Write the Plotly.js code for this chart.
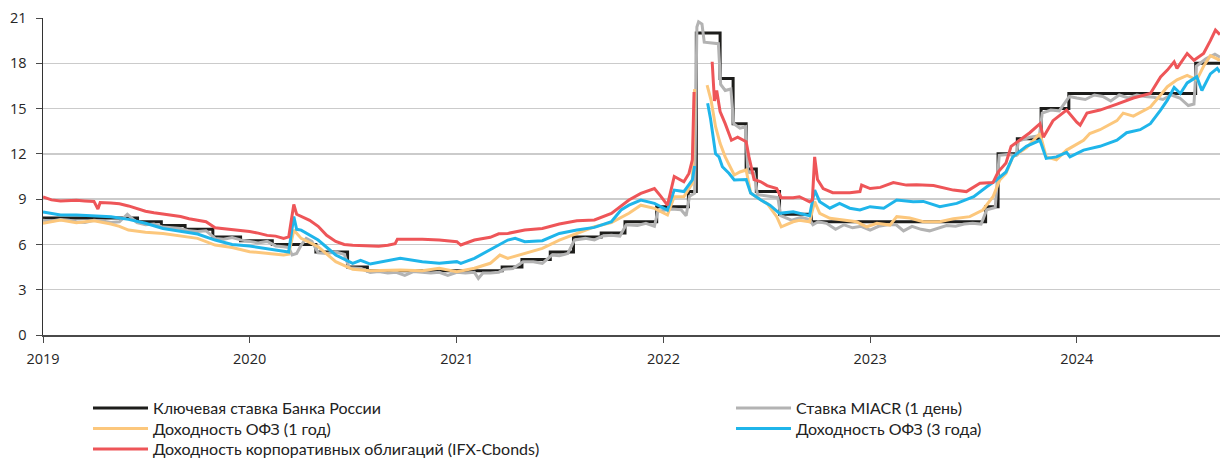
<!DOCTYPE html>
<html>
<head>
<meta charset="utf-8">
<script src="https://cdn.plot.ly/plotly-3.0.1.min.js"></script>
<style>html,body{margin:0;padding:0;background:#fff;}#chart{width:1220px;height:460px;}</style>
</head>
<body>
<div id="chart"></div>
<script>
// ---- Series names ----
const seriesNames = [
  'Ключевая ставка Банка России',
  'Ставка MIACR (1 день)',
  'Доходность ОФЗ (1 год)',
  'Доходность ОФЗ (3 года)',
  'Доходность корпоративных облигаций (IFX-Cbonds)'
];

// ---- Key rate (step) ----
const keyDates = ['2019-01-01','2019-06-17','2019-07-29','2019-09-09','2019-10-28','2019-12-16','2020-02-10','2020-04-27','2020-06-22','2020-07-27','2021-03-22','2021-04-26','2021-06-15','2021-07-26','2021-09-13','2021-10-25','2021-12-20','2022-02-14','2022-02-28','2022-04-11','2022-05-04','2022-05-27','2022-06-14','2022-07-25','2022-09-19','2023-07-24','2023-08-15','2023-09-18','2023-10-30','2023-12-18','2024-07-29','2024-09-10'];
const keyRate = [7.75,7.5,7.25,7.0,6.5,6.25,6.0,5.5,4.5,4.25,4.5,5.0,5.5,6.5,6.75,7.5,8.5,9.5,20,17,14,11,9.5,8,7.5,8.5,12,13,15,16,18,18];

// ---- MIACR overnight ----
const miacrDates = ['2019-01-01','2019-01-16','2019-02-01','2019-02-16','2019-03-01','2019-03-16','2019-04-01','2019-04-16','2019-05-01','2019-05-16','2019-05-30','2019-06-16','2019-07-01','2019-07-16','2019-08-01','2019-08-16','2019-09-01','2019-09-16','2019-10-01','2019-10-16','2019-11-01','2019-11-16','2019-12-01','2019-12-16','2020-01-01','2020-01-16','2020-02-01','2020-02-16','2020-03-01','2020-03-10','2020-03-16','2020-03-24','2020-04-01','2020-04-10','2020-04-20','2020-05-01','2020-05-16','2020-06-01','2020-06-16','2020-06-25','2020-07-16','2020-08-01','2020-08-16','2020-09-01','2020-09-16','2020-10-01','2020-10-16','2020-11-01','2020-11-16','2020-12-01','2020-12-16','2021-01-01','2021-01-16','2021-02-01','2021-02-08','2021-02-16','2021-03-01','2021-03-16','2021-03-25','2021-04-10','2021-04-28','2021-05-16','2021-06-01','2021-06-18','2021-07-01','2021-07-16','2021-07-28','2021-08-16','2021-09-01','2021-09-15','2021-10-01','2021-10-16','2021-10-27','2021-11-16','2021-12-01','2021-12-16','2021-12-22','2022-01-16','2022-02-01','2022-02-10','2022-02-16','2022-02-25','2022-03-01','2022-03-04','2022-03-10','2022-03-14','2022-04-08','2022-04-12','2022-04-20','2022-04-30','2022-05-05','2022-05-16','2022-05-26','2022-05-30','2022-06-10','2022-06-16','2022-07-01','2022-07-22','2022-07-27','2022-08-16','2022-09-01','2022-09-16','2022-09-22','2022-10-01','2022-10-16','2022-11-01','2022-11-16','2022-12-01','2022-12-16','2023-01-01','2023-01-16','2023-02-01','2023-02-16','2023-03-01','2023-03-16','2023-04-01','2023-04-16','2023-05-01','2023-05-16','2023-06-01','2023-06-16','2023-07-01','2023-07-16','2023-07-26','2023-08-10','2023-08-17','2023-09-01','2023-09-16','2023-09-20','2023-10-10','2023-10-27','2023-11-01','2023-11-16','2023-12-01','2023-12-19','2024-01-01','2024-01-16','2024-02-01','2024-02-16','2024-03-01','2024-03-16','2024-04-01','2024-04-16','2024-05-01','2024-05-16','2024-06-01','2024-06-16','2024-07-01','2024-07-16','2024-07-26','2024-07-30','2024-08-16','2024-09-01','2024-09-10'];
const miacr = [7.6,7.55,7.65,7.6,7.5,7.45,7.6,7.55,7.45,7.5,8.0,7.45,7.3,7.35,7.15,7.1,7.05,6.9,6.85,6.9,6.4,6.35,6.45,6.3,6.2,6.1,6.2,5.9,5.85,5.8,5.3,5.4,5.95,6.4,6.2,5.45,5.4,5.5,5.35,4.45,4.4,4.15,4.2,4.1,4.15,3.95,4.2,4.15,4.1,4.15,3.95,4.15,4.1,4.15,3.75,4.1,4.1,4.15,4.35,4.4,4.85,4.85,4.75,5.3,5.25,5.4,6.3,6.4,6.3,6.55,6.6,6.55,7.3,7.25,7.4,7.2,8.2,8.35,8.3,7.9,9.2,9.4,20.4,20.75,20.6,19.4,19.3,16.6,16.2,16.3,14.0,13.7,13.8,10.8,10.7,9.3,9.2,9.1,7.9,7.6,7.8,7.65,7.3,7.5,7.4,7.0,7.3,7.1,7.2,6.95,7.2,7.3,7.3,6.9,7.2,7.0,6.9,7.1,7.25,7.2,7.35,7.4,7.35,8.3,8.45,11.9,11.95,11.9,12.85,13.1,13.2,14.7,14.9,14.85,15.8,15.7,15.6,15.9,15.8,15.5,15.9,15.7,15.9,15.8,15.75,15.6,15.9,15.7,15.2,15.3,17.8,18.3,18.6,18.4];

// ---- OFZ 1 year ----
const ofz1Dates = ['2019-01-01','2019-01-16','2019-02-01','2019-03-01','2019-04-01','2019-05-01','2019-05-16','2019-06-01','2019-07-01','2019-08-01','2019-09-01','2019-10-01','2019-11-01','2019-12-01','2020-01-01','2020-02-01','2020-03-01','2020-03-10','2020-03-19','2020-04-01','2020-05-01','2020-06-01','2020-07-01','2020-08-01','2020-09-01','2020-09-23','2020-11-01','2020-12-01','2021-01-01','2021-02-01','2021-03-01','2021-03-18','2021-04-01','2021-05-01','2021-06-01','2021-07-01','2021-08-01','2021-09-01','2021-10-01','2021-11-01','2021-11-22','2021-12-16','2022-01-08','2022-01-20','2022-02-06','2022-02-21','2022-02-25','2022-03-10','2022-03-19','2022-03-26','2022-04-03','2022-04-11','2022-04-20','2022-05-01','2022-05-06','2022-05-16','2022-05-27','2022-06-04','2022-06-22','2022-07-03','2022-07-20','2022-07-28','2022-08-18','2022-08-29','2022-09-16','2022-09-25','2022-10-04','2022-10-22','2022-11-14','2022-12-08','2022-12-26','2023-01-13','2023-02-05','2023-02-17','2023-03-12','2023-04-05','2023-05-04','2023-05-28','2023-06-26','2023-07-19','2023-08-06','2023-08-18','2023-08-29','2023-09-10','2023-10-04','2023-10-16','2023-10-28','2023-11-08','2023-11-26','2023-12-14','2024-01-13','2024-01-24','2024-02-11','2024-03-12','2024-03-23','2024-04-10','2024-05-10','2024-05-28','2024-06-09','2024-06-26','2024-07-14','2024-07-31','2024-08-12','2024-08-24','2024-09-10'];
const ofz1 = [7.4,7.5,7.62,7.44,7.57,7.35,7.2,6.95,6.8,6.73,6.58,6.4,5.96,5.8,5.52,5.41,5.3,5.35,6.95,6.4,5.85,4.86,4.35,4.26,4.26,4.3,4.25,4.42,4.2,4.42,4.75,5.3,5.08,5.41,5.74,6.29,6.73,7.17,7.44,8.06,8.6,8.39,7.95,9.16,9.16,10.05,16.3,null,16.55,15.56,13.8,12.7,11.8,10.93,10.6,10.8,10.93,9.4,8.94,8.72,7.84,7.17,7.5,7.6,7.5,8.83,8.06,7.73,7.62,7.5,7.17,7.4,7.28,7.84,7.75,7.5,7.5,7.7,7.84,8.28,9.16,10.27,10.7,11.8,12.4,12.9,13.35,11.8,11.6,12.25,12.9,13.35,13.6,14.2,14.7,14.5,15.1,15.9,16.45,16.9,17.2,16.9,17.8,18.5,18.2];

// ---- OFZ 3 years ----
const ofz3Dates = ['2019-01-01','2019-02-01','2019-03-01','2019-04-01','2019-05-01','2019-06-01','2019-07-01','2019-08-01','2019-09-01','2019-10-01','2019-11-01','2019-12-01','2020-01-01','2020-02-01','2020-03-01','2020-03-10','2020-03-19','2020-03-24','2020-04-01','2020-05-01','2020-06-01','2020-07-01','2020-07-15','2020-08-01','2020-09-01','2020-09-23','2020-11-01','2020-12-01','2021-01-01','2021-01-08','2021-02-01','2021-03-01','2021-04-01','2021-04-14','2021-05-01','2021-06-01','2021-07-01','2021-08-01','2021-09-01','2021-10-01','2021-10-18','2021-11-01','2021-11-22','2021-12-16','2022-01-08','2022-01-20','2022-02-06','2022-02-21','2022-02-25','2022-03-10','2022-03-20','2022-03-25','2022-04-03','2022-04-09','2022-04-15','2022-04-27','2022-05-06','2022-05-27','2022-06-04','2022-06-22','2022-07-08','2022-07-25','2022-08-18','2022-08-29','2022-09-16','2022-09-25','2022-10-04','2022-10-22','2022-11-08','2022-11-26','2022-12-14','2023-01-01','2023-01-25','2023-02-17','2023-03-18','2023-04-05','2023-05-04','2023-06-03','2023-07-03','2023-07-26','2023-08-12','2023-08-29','2023-09-10','2023-10-04','2023-10-16','2023-10-28','2023-11-08','2023-11-26','2023-12-14','2023-12-20','2024-01-13','2024-02-11','2024-03-12','2024-03-29','2024-04-22','2024-05-10','2024-05-28','2024-06-09','2024-06-21','2024-07-02','2024-07-14','2024-07-31','2024-08-09','2024-08-24','2024-09-05','2024-09-10'];
const ofz3 = [8.15,7.95,7.95,7.88,7.84,7.66,7.4,7.06,6.89,6.69,6.29,6.0,5.89,5.74,5.55,5.5,7.85,7.0,6.95,6.29,5.3,4.75,4.95,4.7,4.95,5.08,4.86,4.75,4.86,4.75,5.08,5.63,6.29,6.4,6.18,6.25,6.73,6.95,7.13,7.5,8.28,8.6,8.94,8.72,8.28,9.6,9.5,10.27,11.2,null,15.35,14.35,12.0,11.8,11.15,10.7,10.27,10.3,9.4,8.94,8.6,8.06,8.17,8.06,7.9,9.6,8.83,8.4,8.72,8.4,8.28,8.5,8.4,8.94,8.83,8.85,8.5,8.72,9.16,9.82,10.27,10.8,11.8,12.5,12.7,12.9,11.7,11.8,12.1,11.8,12.25,12.5,12.9,13.4,13.6,14.0,14.9,15.56,16.4,16.0,16.7,17.1,16.2,17.3,17.66,17.4];

// ---- Corporate bonds (IFX-Cbonds) ----
const corpDates = ['2019-01-01','2019-01-16','2019-02-01','2019-02-16','2019-03-01','2019-03-16','2019-04-01','2019-04-08','2019-04-12','2019-05-01','2019-05-16','2019-06-01','2019-06-16','2019-07-01','2019-07-16','2019-08-01','2019-08-16','2019-09-01','2019-09-16','2019-10-01','2019-10-16','2019-11-01','2019-11-16','2019-12-01','2019-12-16','2020-01-01','2020-01-16','2020-02-01','2020-02-16','2020-03-01','2020-03-10','2020-03-16','2020-03-19','2020-03-24','2020-04-01','2020-04-16','2020-05-01','2020-05-16','2020-06-01','2020-06-16','2020-07-01','2020-07-16','2020-08-01','2020-08-16','2020-09-01','2020-09-14','2020-09-18','2020-10-16','2020-11-01','2020-12-01','2021-01-01','2021-01-08','2021-02-01','2021-03-01','2021-03-16','2021-04-01','2021-05-01','2021-06-01','2021-07-01','2021-08-01','2021-09-01','2021-10-01','2021-11-01','2021-11-22','2021-12-16','2021-12-27','2022-01-08','2022-01-20','2022-02-06','2022-02-15','2022-02-21','2022-02-24','2022-03-10','2022-03-28','2022-04-01','2022-04-05','2022-04-11','2022-04-20','2022-05-01','2022-05-12','2022-05-27','2022-06-01','2022-06-10','2022-06-22','2022-07-03','2022-07-20','2022-07-28','2022-08-18','2022-08-29','2022-09-16','2022-09-21','2022-09-25','2022-09-30','2022-10-10','2022-10-27','2022-11-26','2022-12-14','2022-12-17','2023-01-01','2023-01-19','2023-02-11','2023-03-06','2023-03-24','2023-04-23','2023-05-16','2023-05-28','2023-06-20','2023-07-14','2023-08-06','2023-08-15','2023-08-29','2023-09-07','2023-09-22','2023-10-10','2023-10-28','2023-11-03','2023-11-20','2023-12-14','2024-01-01','2024-01-07','2024-01-19','2024-02-11','2024-03-12','2024-04-10','2024-05-10','2024-05-28','2024-06-09','2024-06-21','2024-06-26','2024-07-14','2024-07-26','2024-08-12','2024-08-24','2024-09-02','2024-09-10'];
const corp = [9.15,8.95,8.88,8.9,8.92,8.88,8.85,8.35,8.78,8.75,8.7,8.55,8.35,8.2,8.1,8.0,7.95,7.85,7.7,7.62,7.5,7.1,7.05,7.0,6.95,6.85,6.75,6.6,6.55,6.4,6.5,7.9,8.65,8.0,7.85,7.6,7.2,6.6,6.2,6.0,5.95,5.92,5.9,5.88,5.95,6.05,6.35,6.35,6.34,6.29,6.18,5.96,6.29,6.47,6.7,6.73,6.95,7.06,7.35,7.57,7.62,8.06,8.94,9.38,9.7,9.2,8.6,10.5,10.15,10.7,11.6,16.1,null,18.1,15.5,16.2,14.8,14.0,12.9,13.1,12.8,11.8,10.3,10.15,9.9,9.7,9.1,9.1,9.16,8.83,8.95,11.8,10.3,9.7,9.43,9.43,9.5,9.93,9.7,9.78,10.1,9.93,9.95,9.9,9.7,9.6,9.5,10.05,10.1,10.8,11.4,12.5,12.9,13.4,14.0,13.1,14.2,14.9,14.1,13.9,14.7,14.9,15.3,15.7,16.0,17.1,17.55,18.1,17.66,18.65,18.2,18.65,19.5,20.2,19.9];

// ---- Styling ----
const colors = ['#1d1d1b', '#b3b3b3', '#fcc77c', '#1fb5ea', '#ee5558'];
const LW = 3;
// one legend box per entry: [legend id, column, row]
const legendSlots = [['legend', 0, 0], ['legend2', 1, 0], ['legend3', 0, 1], ['legend4', 1, 1], ['legend5', 0, 2]];

const seriesX = [keyDates, miacrDates, ofz1Dates, ofz3Dates, corpDates];
const seriesY = [keyRate, miacr, ofz1, ofz3, corp];

const traces = seriesNames.map((name, i) => ({
  type: 'scatter', mode: 'lines', connectgaps: false, hoverinfo: 'skip',
  x: seriesX[i], y: seriesY[i], name: name,
  line: {color: colors[i], width: LW, shape: i === 0 ? 'hv' : 'linear'},
  legend: legendSlots[i][0]
}));

const legendFont = {family: 'Lato, "Open Sans", sans-serif', size: 16, color: '#222'};
const colX = [88, 731];
const rowTop = [391, 411.5, 432];

const layout = {
  width: 1220, height: 460,
  margin: {l: 43, r: 0, t: 18, b: 125, pad: 0, autoexpand: false},
  paper_bgcolor: '#ffffff', plot_bgcolor: '#ffffff',
  font: {family: '"Open Sans", sans-serif', size: 14, color: '#262626'},
  showlegend: true,
  xaxis: {
    type: 'date', range: ['2019-01-01', '2024-09-10'],
    tick0: '2019-01-01', dtick: 'M12', tickformat: '%Y',
    showgrid: false, zeroline: false,
    showline: true, linecolor: '#4a4a4a', linewidth: 1.5,
    ticks: 'outside', ticklen: 6, tickwidth: 1, tickcolor: '#4a4a4a',
    ticklabelstandoff: 4,
    tickfont: {family: '"Open Sans", sans-serif', size: 14.5, color: '#262626'}
  },
  yaxis: {
    range: [0, 21], tick0: 0, dtick: 3,
    showgrid: true, gridcolor: '#cbcbcb', gridwidth: 1.3, zeroline: false,
    showline: true, linecolor: '#333333', linewidth: 1.5,
    ticks: 'outside', ticklen: 6, tickwidth: 1, tickcolor: '#4a4a4a',
    ticklabelstandoff: 6,
    tickfont: {family: '"Open Sans", sans-serif', size: 14.5, color: '#262626'}
  }
};
legendSlots.forEach(([id, col, row]) => {
  layout[id] = {
    orientation: 'v', xref: 'container', yref: 'container',
    x: colX[col] / 1220, y: 1 - rowTop[row] / 460, xanchor: 'left', yanchor: 'top',
    font: legendFont, bgcolor: 'rgba(0,0,0,0)', borderwidth: 0, itemwidth: 55
  };
});

Plotly.newPlot('chart', traces, layout, {displayModeBar: false, staticPlot: true});
</script>
</body>
</html>
